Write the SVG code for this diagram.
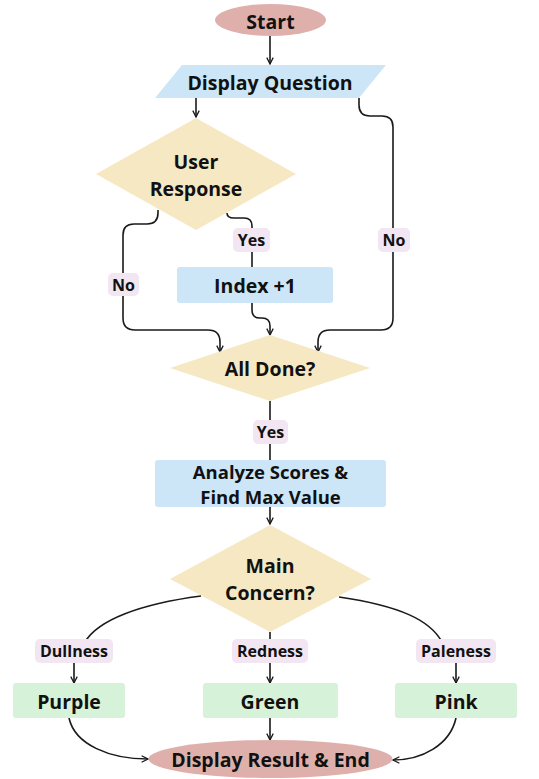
<svg xmlns="http://www.w3.org/2000/svg" width="539" height="779" viewBox="0 0 539 779">
<defs>
<marker id="arr" viewBox="0 0 10 10" refX="9" refY="5" markerWidth="8" markerHeight="8" markerUnits="userSpaceOnUse" orient="auto">
<path d="M1,1 L9,5 L1,9" fill="none" stroke="#1a1a1a" stroke-width="1.6"/>
</marker>
</defs>
<style>
.t{font-family:"Open Sans","Liberation Sans",sans-serif;font-weight:700;font-size:19.5px;fill:#111;text-anchor:middle;dominant-baseline:central}
.t2{font-family:"Open Sans","Liberation Sans",sans-serif;font-weight:700;font-size:18.5px;fill:#111;text-anchor:middle;dominant-baseline:central}
.lt{font-family:"Open Sans","Liberation Sans",sans-serif;font-weight:700;font-size:16px;fill:#111;text-anchor:middle;dominant-baseline:central}
.term{fill:#dfb0ab}
.proc{fill:#cce6f8}
.dec{fill:#f6e8c3}
.res{fill:#d6f2d8}
.lab{fill:#f1e6f1}
.c{fill:none;stroke:#1a1a1a;stroke-width:1.6}
</style>
<rect width="539" height="779" fill="#ffffff"/>
<g id="connectors">
<path class="c" d="M270,36 L270,64" marker-end="url(#arr)"/>
<path class="c" d="M196,97 L196,117" marker-end="url(#arr)"/>
<path class="c" d="M359,98 L359,105 Q359,116 370,116 L382,116 Q393,116 393,127 L393,318 Q393,330 381,330 L330,330 Q318,330 318,342 L318,352" marker-end="url(#arr)"/>
<path class="c" d="M158,210 L158,213 Q158,224 147,224 L134,224 Q123,224 123,235 L123,318 Q123,330 135,330 L208,330 Q220,330 220,342 L220,352" marker-end="url(#arr)"/>
<path class="c" d="M227,213 Q227,218 234,218 L244,218 Q252,218 252,226 L252,267"/>
<path class="c" d="M252,303 L252,310 Q252,318 260,318 L262,318 Q270,318 270,326 L270,335" marker-end="url(#arr)"/>
<path class="c" d="M270,401 L270,460"/>
<path class="c" d="M270,507 L270,524" marker-end="url(#arr)"/>
<path class="c" d="M201,596 C140,604 98,620 85,642 M74,662 L74,683" marker-end="url(#arr)"/>
<path class="c" d="M270,632 L270,641 M270,662 L270,683" marker-end="url(#arr)"/>
<path class="c" d="M339,597 C400,606 430,620 442,642 M456,662 L456,683" marker-end="url(#arr)"/>
<path class="c" d="M69,718 C75,745 110,759 148,759" marker-end="url(#arr)"/>
<path class="c" d="M270,718 L270,740" marker-end="url(#arr)"/>
<path class="c" d="M456,718 C450,745 422,760 393,760" marker-end="url(#arr)"/>
</g>
<g id="start"><ellipse class="term" cx="270.5" cy="20" rx="55.5" ry="16"/><text class="t" x="270.5" y="21">Start</text></g>
<g id="display-question"><polygon class="proc" points="182,65 386,65 359,98 155,98"/><text class="t" x="270" y="82">Display Question</text></g>
<g id="user-response"><polygon class="dec" points="196,118 296,174 196,230 96,174"/><text class="t" x="196" y="161">User</text><text class="t" x="196" y="188">Response</text></g>
<g id="label-no-left"><rect class="lab" x="108" y="273" width="31" height="23" rx="5"/><text class="lt" x="123.5" y="284.5">No</text></g>
<g id="label-yes-1"><rect class="lab" x="233" y="228" width="37" height="24" rx="5"/><text class="lt" x="251.5" y="240">Yes</text></g>
<g id="label-no-right"><rect class="lab" x="378" y="228" width="32" height="24" rx="5"/><text class="lt" x="394" y="240">No</text></g>
<g id="index"><rect class="proc" x="177" y="267" width="156" height="36" rx="3"/><text class="t" x="255" y="285">Index +1</text></g>
<g id="all-done"><polygon class="dec" points="270,335 370,368 270,401 170,368"/><text class="t" x="270" y="368">All Done?</text></g>
<g id="label-yes-2"><rect class="lab" x="253" y="420" width="35" height="24" rx="5"/><text class="lt" x="270.5" y="432">Yes</text></g>
<g id="analyze"><rect class="proc" x="155" y="460" width="231" height="47" rx="3"/><text class="t2" x="270.5" y="471">Analyze Scores &amp;</text><text class="t2" x="270.5" y="496">Find Max Value</text></g>
<g id="main-concern"><polygon class="dec" points="270,525 371,579 270,632 170,579"/><text class="t" x="270" y="565">Main</text><text class="t" x="270" y="592">Concern?</text></g>
<g id="label-dullness"><rect class="lab" x="35" y="639" width="78" height="24" rx="5"/><text class="lt" x="74" y="651">Dullness</text></g>
<g id="label-redness"><rect class="lab" x="232" y="639" width="76" height="24" rx="5"/><text class="lt" x="270" y="651">Redness</text></g>
<g id="label-paleness"><rect class="lab" x="416" y="639" width="80" height="24" rx="5"/><text class="lt" x="456" y="651">Paleness</text></g>
<g id="purple"><rect class="res" x="13" y="683" width="112" height="35" rx="3"/><text class="t" x="69" y="701">Purple</text></g>
<g id="green"><rect class="res" x="203" y="683" width="135" height="35" rx="3"/><text class="t" x="270" y="701">Green</text></g>
<g id="pink"><rect class="res" x="395" y="683" width="122" height="35" rx="3"/><text class="t" x="456" y="701">Pink</text></g>
<g id="end"><ellipse class="term" cx="270.5" cy="759" rx="122" ry="19"/><text class="t" x="270.5" y="759">Display Result &amp; End</text></g>
</svg>
